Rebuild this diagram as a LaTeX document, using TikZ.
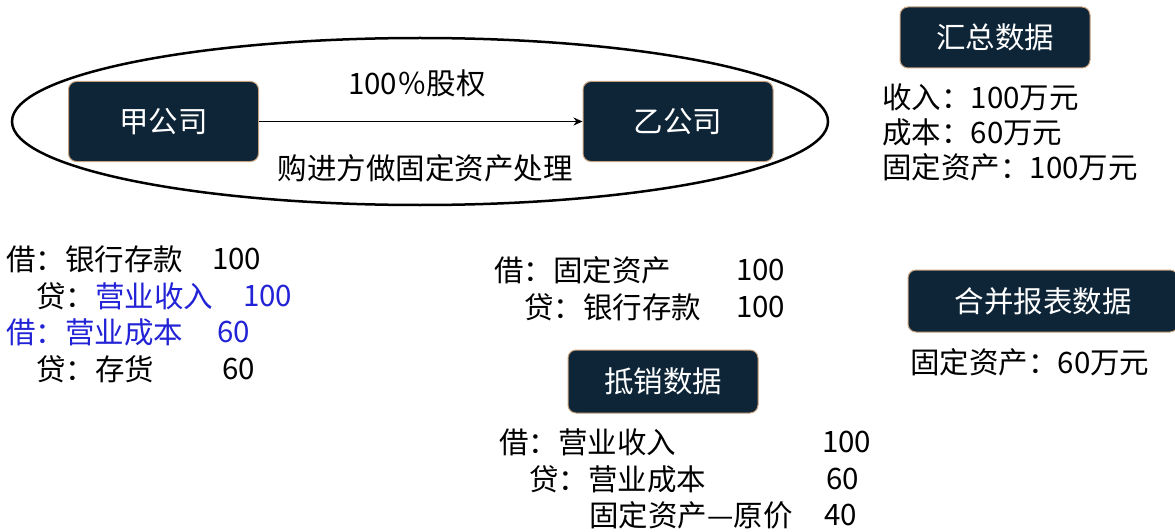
\documentclass[tikz,border=0pt]{standalone}
\usepackage{fontspec}
\setmainfont{Noto Sans CJK SC}
\usetikzlibrary{arrows.meta}
\definecolor{navy}{HTML}{0E2538}
\definecolor{tanc}{HTML}{C8A27E}
\definecolor{blu}{HTML}{2222D6}
\begin{document}
\begin{tikzpicture}[x=1pt,y=-1pt,
  box/.style={draw=tanc, line width=1pt, fill=navy, rounded corners=8pt, text=white,
    font=\fontsize{29.5}{32}\selectfont, inner sep=0pt},
  txt/.style={font=\fontsize{29.5}{34}\selectfont, inner sep=0pt, anchor=west},
  ctxt/.style={font=\fontsize{29.5}{34}\selectfont, inner sep=0pt}]
\useasboundingbox (0,0) rectangle (1175,532);
% ellipse
\draw[line width=2.5pt] (420,121.5) ellipse [x radius=408, y radius=83.5];
% company boxes
\node[box, minimum width=190pt, minimum height=80pt] (jia) at (163.5,121.5) {甲公司};
\node[box, minimum width=190pt, minimum height=80pt] (yi) at (678,121.5) {乙公司};
\draw[line width=1.8pt, -{Stealth[length=9pt,width=8pt]}] (jia) -- (yi);
\node[ctxt] (eq) at (417,83) {100％股权};
\node[ctxt] (gj) at (425,168) {购进方做固定资产处理};
% summary
\node[box, minimum width=190pt, minimum height=61pt] (hz) at (995,37.5) {汇总数据};
\node[txt] (hz1) at (882,97) {收入：100万元};
\node[txt] (hz2) at (882,132) {成本：60万元};
\node[txt] (hz3) at (882,167) {固定资产：100万元};
% left entries
\node[txt] (l1) at (6,259) {借：银行存款};
\node[txt] (l1n) at (212,259) {100};
\node[txt] (l2) at (36,296) {贷：\textcolor{blu}{营业收入}};
\node[txt, text=blu] (l2n) at (243,296) {100};
\node[txt, text=blu] (l3) at (6,332) {借：营业成本};
\node[txt, text=blu] (l3n) at (217,332) {60};
\node[txt] (l4) at (36,369) {贷：存货};
\node[txt] (l4n) at (222,369) {60};
% middle entries
\node[txt] (m1) at (494,270) {借：固定资产};
\node[txt] (m1n) at (736,270) {100};
\node[txt] (m2) at (524,307) {贷：银行存款};
\node[txt] (m2n) at (736,307) {100};
\node[box, minimum width=190pt, minimum height=63pt] (dx) at (663,381.5) {抵销数据};
\node[txt] (d1) at (499,442) {借：营业收入};
\node[txt] (d1n) at (822,442) {100};
\node[txt] (d2) at (529,479) {贷：营业成本};
\node[txt] (d2n) at (826,479) {60};
\node[txt] (d3) at (589,515) {固定资产—原价};
\node[txt] (d3n) at (824,515) {40};
% consolidated
\node[box, minimum width=270pt, minimum height=62pt] (hb) at (1043,301) {合并报表数据};
\node[txt] (hb1) at (910,362) {固定资产：60万元};
\end{tikzpicture}
\end{document}
